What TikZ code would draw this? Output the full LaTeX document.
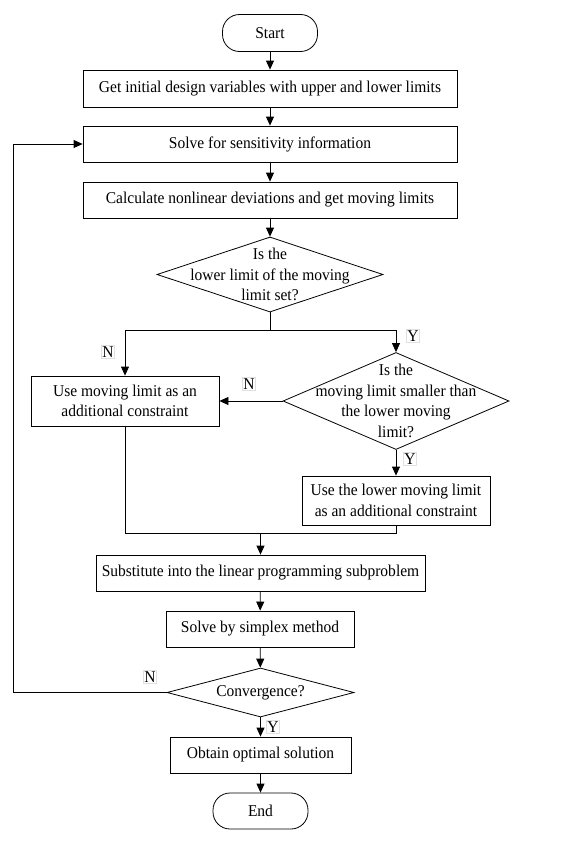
\documentclass[tikz,border=0pt]{standalone}
\usepackage{fontspec}
\setmainfont{Liberation Serif}[FakeStretch=0.94]
\usepackage{tikz}
\usetikzlibrary{shapes.geometric,arrows.meta}
\newcommand{\chartfont}{\fontsize{16.5}{20.5}\selectfont}
\tikzstyle{arrow} = [line width=0.8pt,-{Triangle[length=9pt,width=8pt]}]
\tikzstyle{line} = [line width=0.8pt]
\tikzstyle{process} = [draw,line width=0.8pt,rectangle,minimum height=36pt,inner sep=0pt,align=center,font=\chartfont]
\tikzstyle{terminal} = [draw,line width=0.8pt,rectangle,rounded corners=17pt,minimum width=95pt,minimum height=37pt,font=\chartfont]
\tikzstyle{decision} = [draw,line width=0.8pt,diamond,inner sep=0pt]
\tikzstyle{yn} = [draw=black!12,line width=0.5pt,inner sep=1pt,font=\chartfont]

\begin{document}
\begin{tikzpicture}[x=1pt,y=-1pt]
    \useasboundingbox (0,0) rectangle (582,846);
    % top column
    \node[terminal] (start) at (270,33) {Start};
    \node[process,minimum width=374pt,minimum height=37pt] (init) at (270,88.5) {Get initial design variables with upper and lower limits};
    \node[process,minimum width=374pt] (sens) at (270,144) {Solve for sensitivity information};
    \node[process,minimum width=374pt] (calc) at (270,200) {Calculate nonlinear deviations and get moving limits};
    \node[decision,minimum width=226pt,minimum height=75pt,
        label={[font=\chartfont,align=center]center:Is the\\lower limit of the moving\\limit set?}] (islower) at (270,274.5) {};
    % branches
    \node[process,minimum width=188pt,minimum height=50pt] (usemove) at (125,401) {Use moving limit as an\\additional constraint};
    \node[decision,minimum width=226pt,minimum height=97pt,
        label={[font=\chartfont,align=center]center:Is the\\moving limit smaller than\\the lower moving\\limit?}] (issmaller) at (396,401) {};
    \node[process,minimum width=188pt,minimum height=49pt] (uselower) at (396,500.5) {Use the lower moving limit\\as an additional constraint};
    % bottom column
    \node[process,minimum width=329pt] (subst) at (260.5,573) {Substitute into the linear programming subproblem};
    \node[process,minimum width=188pt] (simplex) at (260,629) {Solve by simplex method};
    \node[decision,minimum width=187pt,minimum height=49pt,
        label={[font=\chartfont]center:Convergence?}] (conv) at (260.5,692.5) {};
    \node[process,minimum width=181pt] (optimal) at (260.5,755) {Obtain optimal solution};
    \node[terminal,minimum height=36pt] (stop) at (260.5,811) {End};

    % connectors
    \draw[arrow] (start) -- (init);
    \draw[arrow] (init) -- (sens);
    \draw[arrow] (sens) -- (calc);
    \draw[arrow] (calc) -- (islower);
    \draw[line] (islower.south) -- ++(0,18) coordinate (split);
    \draw[arrow] (split) -| (usemove.north);
    \draw[arrow] (split) -| (issmaller.north);
    \draw[arrow] (issmaller.west) -- (usemove.east);
    \draw[arrow] (issmaller.south) -- (uselower.north);
    \path (subst.north) ++(0,-21) coordinate (join);
    \draw[line] (usemove.south) |- (join) -| (uselower.south);
    \draw[arrow] (join) -- (subst.north);
    \draw[arrow] (subst) -- (simplex);
    \draw[arrow] (simplex) -- (conv);
    \draw[arrow] (conv) -- (optimal);
    \draw[arrow] (optimal) -- (stop);
    \draw[arrow] (conv.west) -- ++(-153,0) |- (sens.west);

    % Y / N labels
    \node[yn] (n1) at (108,352) {N};
    \node[yn] (y1) at (413,336) {Y};
    \node[yn] (n2) at (249,384) {N};
    \node[yn] (y2) at (410,459) {Y};
    \node[yn] (n3) at (150,677) {N};
    \node[yn] (y3) at (273,727) {Y};
\end{tikzpicture}
\end{document}
